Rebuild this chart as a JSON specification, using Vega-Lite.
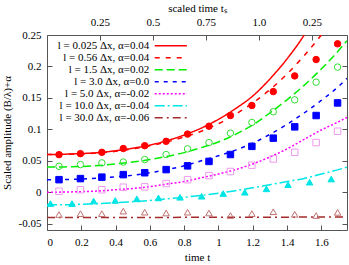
{
  "$schema": "https://vega.github.io/schema/vega-lite/v6.json",
  "width": 300,
  "height": 195,
  "autosize": "none",
  "padding": {"left": 47, "top": 35, "right": 2, "bottom": 35},
  "config": {
    "font": "Liberation Serif",
    "view": {"stroke": "#555", "strokeWidth": 1},
    "axis": {
      "labelFont": "Liberation Serif",
      "labelFontSize": 11,
      "labelColor": "#000",
      "labelOverlap": false,
      "labelBound": false,
      "titleFont": "Liberation Serif",
      "titleFontSize": 11,
      "titleFontWeight": "normal",
      "titleColor": "#000",
      "domain": false,
      "grid": false,
      "tickColor": "#555",
      "tickSize": -5
    },
    "legend": {
      "orient": "none", "legendX": 117.3, "legendY": 4.2, "title": null, "padding": 0,
      "labelAlign": "right", "labelOffset": -28, "labelFont": "Liberation Serif", "labelFontSize": 11,
      "labelColor": "#000", "labelLimit": 0, "symbolType": "M-2.8,0H2.8", "symbolSize": 132,
      "symbolStrokeWidth": 1.5, "rowPadding": 0
    }
  },
  "datasets": {
    "curves": [
      {"series": "l = 0.025 Δx, α=0.04", "t": 0, "v": 0.060},
      {"series": "l = 0.025 Δx, α=0.04", "t": 0.1, "v": 0.0605},
      {"series": "l = 0.025 Δx, α=0.04", "t": 0.2, "v": 0.0615},
      {"series": "l = 0.025 Δx, α=0.04", "t": 0.3, "v": 0.063},
      {"series": "l = 0.025 Δx, α=0.04", "t": 0.4, "v": 0.066},
      {"series": "l = 0.025 Δx, α=0.04", "t": 0.5, "v": 0.070},
      {"series": "l = 0.025 Δx, α=0.04", "t": 0.6, "v": 0.075},
      {"series": "l = 0.025 Δx, α=0.04", "t": 0.7, "v": 0.082},
      {"series": "l = 0.025 Δx, α=0.04", "t": 0.8, "v": 0.091},
      {"series": "l = 0.025 Δx, α=0.04", "t": 0.9, "v": 0.102},
      {"series": "l = 0.025 Δx, α=0.04", "t": 1.0, "v": 0.116},
      {"series": "l = 0.025 Δx, α=0.04", "t": 1.1, "v": 0.133},
      {"series": "l = 0.025 Δx, α=0.04", "t": 1.2, "v": 0.153},
      {"series": "l = 0.025 Δx, α=0.04", "t": 1.3, "v": 0.180},
      {"series": "l = 0.025 Δx, α=0.04", "t": 1.4, "v": 0.212},
      {"series": "l = 0.025 Δx, α=0.04", "t": 1.5, "v": 0.250},
      {"series": "l = 0.025 Δx, α=0.04", "t": 1.55, "v": 0.273},

      {"series": "l = 0.56 Δx, α=0.04", "t": 0, "v": 0.060},
      {"series": "l = 0.56 Δx, α=0.04", "t": 0.1, "v": 0.0603},
      {"series": "l = 0.56 Δx, α=0.04", "t": 0.2, "v": 0.061},
      {"series": "l = 0.56 Δx, α=0.04", "t": 0.3, "v": 0.0625},
      {"series": "l = 0.56 Δx, α=0.04", "t": 0.4, "v": 0.065},
      {"series": "l = 0.56 Δx, α=0.04", "t": 0.5, "v": 0.069},
      {"series": "l = 0.56 Δx, α=0.04", "t": 0.6, "v": 0.074},
      {"series": "l = 0.56 Δx, α=0.04", "t": 0.7, "v": 0.080},
      {"series": "l = 0.56 Δx, α=0.04", "t": 0.8, "v": 0.088},
      {"series": "l = 0.56 Δx, α=0.04", "t": 0.9, "v": 0.097},
      {"series": "l = 0.56 Δx, α=0.04", "t": 1.0, "v": 0.109},
      {"series": "l = 0.56 Δx, α=0.04", "t": 1.1, "v": 0.124},
      {"series": "l = 0.56 Δx, α=0.04", "t": 1.2, "v": 0.142},
      {"series": "l = 0.56 Δx, α=0.04", "t": 1.3, "v": 0.163},
      {"series": "l = 0.56 Δx, α=0.04", "t": 1.4, "v": 0.188},
      {"series": "l = 0.56 Δx, α=0.04", "t": 1.5, "v": 0.217},
      {"series": "l = 0.56 Δx, α=0.04", "t": 1.6, "v": 0.250},
      {"series": "l = 0.56 Δx, α=0.04", "t": 1.65, "v": 0.268},

      {"series": "l = 1.5 Δx, α=0.02", "t": 0, "v": 0.040},
      {"series": "l = 1.5 Δx, α=0.02", "t": 0.1, "v": 0.0403},
      {"series": "l = 1.5 Δx, α=0.02", "t": 0.2, "v": 0.041},
      {"series": "l = 1.5 Δx, α=0.02", "t": 0.3, "v": 0.0425},
      {"series": "l = 1.5 Δx, α=0.02", "t": 0.4, "v": 0.045},
      {"series": "l = 1.5 Δx, α=0.02", "t": 0.5, "v": 0.048},
      {"series": "l = 1.5 Δx, α=0.02", "t": 0.6, "v": 0.052},
      {"series": "l = 1.5 Δx, α=0.02", "t": 0.7, "v": 0.057},
      {"series": "l = 1.5 Δx, α=0.02", "t": 0.8, "v": 0.063},
      {"series": "l = 1.5 Δx, α=0.02", "t": 0.9, "v": 0.071},
      {"series": "l = 1.5 Δx, α=0.02", "t": 1.0, "v": 0.080},
      {"series": "l = 1.5 Δx, α=0.02", "t": 1.1, "v": 0.092},
      {"series": "l = 1.5 Δx, α=0.02", "t": 1.2, "v": 0.107},
      {"series": "l = 1.5 Δx, α=0.02", "t": 1.3, "v": 0.126},
      {"series": "l = 1.5 Δx, α=0.02", "t": 1.4, "v": 0.147},
      {"series": "l = 1.5 Δx, α=0.02", "t": 1.5, "v": 0.170},
      {"series": "l = 1.5 Δx, α=0.02", "t": 1.6, "v": 0.196},
      {"series": "l = 1.5 Δx, α=0.02", "t": 1.7, "v": 0.225},
      {"series": "l = 1.5 Δx, α=0.02", "t": 1.75, "v": 0.241},

      {"series": "l = 3.0 Δx, α=0.0", "t": 0, "v": 0.020},
      {"series": "l = 3.0 Δx, α=0.0", "t": 0.1, "v": 0.0203},
      {"series": "l = 3.0 Δx, α=0.0", "t": 0.2, "v": 0.021},
      {"series": "l = 3.0 Δx, α=0.0", "t": 0.3, "v": 0.0225},
      {"series": "l = 3.0 Δx, α=0.0", "t": 0.4, "v": 0.0245},
      {"series": "l = 3.0 Δx, α=0.0", "t": 0.5, "v": 0.027},
      {"series": "l = 3.0 Δx, α=0.0", "t": 0.6, "v": 0.031},
      {"series": "l = 3.0 Δx, α=0.0", "t": 0.7, "v": 0.036},
      {"series": "l = 3.0 Δx, α=0.0", "t": 0.8, "v": 0.042},
      {"series": "l = 3.0 Δx, α=0.0", "t": 0.9, "v": 0.050},
      {"series": "l = 3.0 Δx, α=0.0", "t": 1.0, "v": 0.058},
      {"series": "l = 3.0 Δx, α=0.0", "t": 1.1, "v": 0.067},
      {"series": "l = 3.0 Δx, α=0.0", "t": 1.2, "v": 0.078},
      {"series": "l = 3.0 Δx, α=0.0", "t": 1.3, "v": 0.092},
      {"series": "l = 3.0 Δx, α=0.0", "t": 1.4, "v": 0.108},
      {"series": "l = 3.0 Δx, α=0.0", "t": 1.5, "v": 0.126},
      {"series": "l = 3.0 Δx, α=0.0", "t": 1.6, "v": 0.146},
      {"series": "l = 3.0 Δx, α=0.0", "t": 1.7, "v": 0.168},
      {"series": "l = 3.0 Δx, α=0.0", "t": 1.75, "v": 0.181},

      {"series": "l = 5.0 Δx, α=-0.02", "t": 0, "v": 0.000},
      {"series": "l = 5.0 Δx, α=-0.02", "t": 0.1, "v": 0.0003},
      {"series": "l = 5.0 Δx, α=-0.02", "t": 0.2, "v": 0.001},
      {"series": "l = 5.0 Δx, α=-0.02", "t": 0.3, "v": 0.002},
      {"series": "l = 5.0 Δx, α=-0.02", "t": 0.4, "v": 0.004},
      {"series": "l = 5.0 Δx, α=-0.02", "t": 0.5, "v": 0.006},
      {"series": "l = 5.0 Δx, α=-0.02", "t": 0.6, "v": 0.009},
      {"series": "l = 5.0 Δx, α=-0.02", "t": 0.7, "v": 0.013},
      {"series": "l = 5.0 Δx, α=-0.02", "t": 0.8, "v": 0.017},
      {"series": "l = 5.0 Δx, α=-0.02", "t": 0.9, "v": 0.023},
      {"series": "l = 5.0 Δx, α=-0.02", "t": 1.0, "v": 0.029},
      {"series": "l = 5.0 Δx, α=-0.02", "t": 1.1, "v": 0.036},
      {"series": "l = 5.0 Δx, α=-0.02", "t": 1.2, "v": 0.045},
      {"series": "l = 5.0 Δx, α=-0.02", "t": 1.3, "v": 0.056},
      {"series": "l = 5.0 Δx, α=-0.02", "t": 1.4, "v": 0.069},
      {"series": "l = 5.0 Δx, α=-0.02", "t": 1.5, "v": 0.084},
      {"series": "l = 5.0 Δx, α=-0.02", "t": 1.6, "v": 0.099},
      {"series": "l = 5.0 Δx, α=-0.02", "t": 1.7, "v": 0.112},
      {"series": "l = 5.0 Δx, α=-0.02", "t": 1.75, "v": 0.119},

      {"series": "l = 10.0 Δx, α=-0.04", "t": 0, "v": -0.020},
      {"series": "l = 10.0 Δx, α=-0.04", "t": 0.1, "v": -0.0198},
      {"series": "l = 10.0 Δx, α=-0.04", "t": 0.2, "v": -0.019},
      {"series": "l = 10.0 Δx, α=-0.04", "t": 0.3, "v": -0.018},
      {"series": "l = 10.0 Δx, α=-0.04", "t": 0.4, "v": -0.0165},
      {"series": "l = 10.0 Δx, α=-0.04", "t": 0.5, "v": -0.015},
      {"series": "l = 10.0 Δx, α=-0.04", "t": 0.6, "v": -0.013},
      {"series": "l = 10.0 Δx, α=-0.04", "t": 0.7, "v": -0.0105},
      {"series": "l = 10.0 Δx, α=-0.04", "t": 0.8, "v": -0.008},
      {"series": "l = 10.0 Δx, α=-0.04", "t": 0.9, "v": -0.005},
      {"series": "l = 10.0 Δx, α=-0.04", "t": 1.0, "v": -0.0015},
      {"series": "l = 10.0 Δx, α=-0.04", "t": 1.1, "v": 0.0025},
      {"series": "l = 10.0 Δx, α=-0.04", "t": 1.2, "v": 0.007},
      {"series": "l = 10.0 Δx, α=-0.04", "t": 1.3, "v": 0.012},
      {"series": "l = 10.0 Δx, α=-0.04", "t": 1.4, "v": 0.017},
      {"series": "l = 10.0 Δx, α=-0.04", "t": 1.5, "v": 0.022},
      {"series": "l = 10.0 Δx, α=-0.04", "t": 1.6, "v": 0.029},
      {"series": "l = 10.0 Δx, α=-0.04", "t": 1.7, "v": 0.036},
      {"series": "l = 10.0 Δx, α=-0.04", "t": 1.75, "v": 0.040},

      {"series": "l = 30.0 Δx, α=-0.06", "t": 0, "v": -0.040},
      {"series": "l = 30.0 Δx, α=-0.06", "t": 0.5, "v": -0.040},
      {"series": "l = 30.0 Δx, α=-0.06", "t": 1.0, "v": -0.0398},
      {"series": "l = 30.0 Δx, α=-0.06", "t": 1.5, "v": -0.0395},
      {"series": "l = 30.0 Δx, α=-0.06", "t": 1.75, "v": -0.0393}
    ],
    "pts": [
      {"series": "l = 0.56 Δx, α=0.04", "t": 0.07, "v": 0.0598},
      {"series": "l = 0.56 Δx, α=0.04", "t": 0.195, "v": 0.0614},
      {"series": "l = 0.56 Δx, α=0.04", "t": 0.32, "v": 0.0635},
      {"series": "l = 0.56 Δx, α=0.04", "t": 0.445, "v": 0.0695},
      {"series": "l = 0.56 Δx, α=0.04", "t": 0.57, "v": 0.0741},
      {"series": "l = 0.56 Δx, α=0.04", "t": 0.695, "v": 0.081},
      {"series": "l = 0.56 Δx, α=0.04", "t": 0.82, "v": 0.0925},
      {"series": "l = 0.56 Δx, α=0.04", "t": 0.945, "v": 0.105},
      {"series": "l = 0.56 Δx, α=0.04", "t": 1.07, "v": 0.122},
      {"series": "l = 0.56 Δx, α=0.04", "t": 1.195, "v": 0.138},
      {"series": "l = 0.56 Δx, α=0.04", "t": 1.32, "v": 0.160},
      {"series": "l = 0.56 Δx, α=0.04", "t": 1.445, "v": 0.185},
      {"series": "l = 0.56 Δx, α=0.04", "t": 1.57, "v": 0.211},
      {"series": "l = 0.56 Δx, α=0.04", "t": 1.695, "v": 0.236},

      {"series": "l = 1.5 Δx, α=0.02", "t": 0.07, "v": 0.0413},
      {"series": "l = 1.5 Δx, α=0.02", "t": 0.195, "v": 0.044},
      {"series": "l = 1.5 Δx, α=0.02", "t": 0.32, "v": 0.0467},
      {"series": "l = 1.5 Δx, α=0.02", "t": 0.445, "v": 0.048},
      {"series": "l = 1.5 Δx, α=0.02", "t": 0.57, "v": 0.052},
      {"series": "l = 1.5 Δx, α=0.02", "t": 0.695, "v": 0.060},
      {"series": "l = 1.5 Δx, α=0.02", "t": 0.82, "v": 0.069},
      {"series": "l = 1.5 Δx, α=0.02", "t": 0.945, "v": 0.079},
      {"series": "l = 1.5 Δx, α=0.02", "t": 1.07, "v": 0.094},
      {"series": "l = 1.5 Δx, α=0.02", "t": 1.195, "v": 0.111},
      {"series": "l = 1.5 Δx, α=0.02", "t": 1.32, "v": 0.128},
      {"series": "l = 1.5 Δx, α=0.02", "t": 1.445, "v": 0.147},
      {"series": "l = 1.5 Δx, α=0.02", "t": 1.57, "v": 0.175},
      {"series": "l = 1.5 Δx, α=0.02", "t": 1.695, "v": 0.199},

      {"series": "l = 3.0 Δx, α=0.0", "t": 0.07, "v": 0.020},
      {"series": "l = 3.0 Δx, α=0.0", "t": 0.195, "v": 0.0217},
      {"series": "l = 3.0 Δx, α=0.0", "t": 0.32, "v": 0.024},
      {"series": "l = 3.0 Δx, α=0.0", "t": 0.445, "v": 0.028},
      {"series": "l = 3.0 Δx, α=0.0", "t": 0.57, "v": 0.031},
      {"series": "l = 3.0 Δx, α=0.0", "t": 0.695, "v": 0.036},
      {"series": "l = 3.0 Δx, α=0.0", "t": 0.82, "v": 0.042},
      {"series": "l = 3.0 Δx, α=0.0", "t": 0.945, "v": 0.049},
      {"series": "l = 3.0 Δx, α=0.0", "t": 1.07, "v": 0.060},
      {"series": "l = 3.0 Δx, α=0.0", "t": 1.195, "v": 0.073},
      {"series": "l = 3.0 Δx, α=0.0", "t": 1.32, "v": 0.086},
      {"series": "l = 3.0 Δx, α=0.0", "t": 1.445, "v": 0.104},
      {"series": "l = 3.0 Δx, α=0.0", "t": 1.57, "v": 0.122},
      {"series": "l = 3.0 Δx, α=0.0", "t": 1.695, "v": 0.142},

      {"series": "l = 5.0 Δx, α=-0.02", "t": 0.07, "v": 0.0016},
      {"series": "l = 5.0 Δx, α=-0.02", "t": 0.195, "v": 0.004},
      {"series": "l = 5.0 Δx, α=-0.02", "t": 0.32, "v": 0.004},
      {"series": "l = 5.0 Δx, α=-0.02", "t": 0.445, "v": 0.008},
      {"series": "l = 5.0 Δx, α=-0.02", "t": 0.57, "v": 0.0086},
      {"series": "l = 5.0 Δx, α=-0.02", "t": 0.695, "v": 0.0138},
      {"series": "l = 5.0 Δx, α=-0.02", "t": 0.82, "v": 0.020},
      {"series": "l = 5.0 Δx, α=-0.02", "t": 0.945, "v": 0.0265},
      {"series": "l = 5.0 Δx, α=-0.02", "t": 1.07, "v": 0.033},
      {"series": "l = 5.0 Δx, α=-0.02", "t": 1.195, "v": 0.043},
      {"series": "l = 5.0 Δx, α=-0.02", "t": 1.32, "v": 0.053},
      {"series": "l = 5.0 Δx, α=-0.02", "t": 1.445, "v": 0.0635},
      {"series": "l = 5.0 Δx, α=-0.02", "t": 1.57, "v": 0.079},
      {"series": "l = 5.0 Δx, α=-0.02", "t": 1.695, "v": 0.097},

      {"series": "l = 10.0 Δx, α=-0.04", "t": 0.02, "v": -0.018},
      {"series": "l = 10.0 Δx, α=-0.04", "t": 0.146, "v": -0.018},
      {"series": "l = 10.0 Δx, α=-0.04", "t": 0.272, "v": -0.014},
      {"series": "l = 10.0 Δx, α=-0.04", "t": 0.398, "v": -0.013},
      {"series": "l = 10.0 Δx, α=-0.04", "t": 0.524, "v": -0.0105},
      {"series": "l = 10.0 Δx, α=-0.04", "t": 0.65, "v": -0.009},
      {"series": "l = 10.0 Δx, α=-0.04", "t": 0.776, "v": -0.008},
      {"series": "l = 10.0 Δx, α=-0.04", "t": 0.902, "v": -0.0063},
      {"series": "l = 10.0 Δx, α=-0.04", "t": 1.028, "v": -0.002},
      {"series": "l = 10.0 Δx, α=-0.04", "t": 1.154, "v": 0.000},
      {"series": "l = 10.0 Δx, α=-0.04", "t": 1.28, "v": 0.0054},
      {"series": "l = 10.0 Δx, α=-0.04", "t": 1.406, "v": 0.012},
      {"series": "l = 10.0 Δx, α=-0.04", "t": 1.532, "v": 0.016},
      {"series": "l = 10.0 Δx, α=-0.04", "t": 1.658, "v": 0.021},

      {"series": "l = 30.0 Δx, α=-0.06", "t": 0.07, "v": -0.0354},
      {"series": "l = 30.0 Δx, α=-0.06", "t": 0.195, "v": -0.034},
      {"series": "l = 30.0 Δx, α=-0.06", "t": 0.32, "v": -0.034},
      {"series": "l = 30.0 Δx, α=-0.06", "t": 0.445, "v": -0.030},
      {"series": "l = 30.0 Δx, α=-0.06", "t": 0.57, "v": -0.0317},
      {"series": "l = 30.0 Δx, α=-0.06", "t": 0.695, "v": -0.033},
      {"series": "l = 30.0 Δx, α=-0.06", "t": 0.82, "v": -0.0317},
      {"series": "l = 30.0 Δx, α=-0.06", "t": 0.945, "v": -0.033},
      {"series": "l = 30.0 Δx, α=-0.06", "t": 1.07, "v": -0.037},
      {"series": "l = 30.0 Δx, α=-0.06", "t": 1.195, "v": -0.034},
      {"series": "l = 30.0 Δx, α=-0.06", "t": 1.32, "v": -0.031},
      {"series": "l = 30.0 Δx, α=-0.06", "t": 1.445, "v": -0.035},
      {"series": "l = 30.0 Δx, α=-0.06", "t": 1.57, "v": -0.037},
      {"series": "l = 30.0 Δx, α=-0.06", "t": 1.695, "v": -0.032}
    ],
    "topaxis": [{"ts": 0.25, "v": 0}]
  },
  "layer": [
    {
      "layer": [
        {
          "data": {"name": "curves"},
          "mark": {"type": "line", "clip": true, "strokeWidth": 1.5, "interpolate": "monotone"},
          "encoding": {
            "x": {"field": "t", "type": "quantitative", "scale": {"domain": [0, 1.75], "nice": false, "zero": false},
              "axis": {"orient": "bottom", "title": "time t", "values": [0, 0.2, 0.4, 0.6, 0.8, 1, 1.2, 1.4, 1.6], "labelExpr": "'' + datum.value", "labelOverlap": false, "labelPadding": 11, "titlePadding": 4}},
            "y": {"field": "v", "type": "quantitative", "scale": {"domain": [-0.06, 0.25], "nice": false, "zero": false},
              "axis": {"orient": "left", "title": "Scaled amplitude (B/λ)+α", "values": [-0.05, 0, 0.05, 0.1, 0.15, 0.2, 0.25], "labelExpr": "'' + datum.value", "labelOverlap": false, "labelPadding": 11, "titlePadding": 6}},
            "color": {"field": "series", "type": "nominal",
              "scale": {"domain": ["l = 0.025 Δx, α=0.04", "l = 0.56 Δx, α=0.04", "l = 1.5 Δx, α=0.02", "l = 3.0 Δx, α=0.0", "l = 5.0 Δx, α=-0.02", "l = 10.0 Δx, α=-0.04", "l = 30.0 Δx, α=-0.06"],
                "range": ["#ff0000", "#ff0000", "#00ee00", "#0000ff", "#ff00ff", "#00e5e5", "#a52a2a"]},
              "legend": {"title": null}},
            "strokeDash": {"field": "series", "type": "nominal",
              "scale": {"domain": ["l = 0.025 Δx, α=0.04", "l = 0.56 Δx, α=0.04", "l = 1.5 Δx, α=0.02", "l = 3.0 Δx, α=0.0", "l = 5.0 Δx, α=-0.02", "l = 10.0 Δx, α=-0.04", "l = 30.0 Δx, α=-0.06"],
                "range": [[1, 0], [5, 6], [8, 4], [4, 5], [2, 2], [10, 3, 2, 3], [8, 4, 2, 4]]},
              "legend": {"title": null}}
          }
        },
        {
          "data": {"name": "pts"},
          "mark": {"type": "point", "clip": true, "strokeWidth": 1, "opacity": 1, "size": 42},
          "encoding": {
            "x": {"field": "t", "type": "quantitative",
              "axis": {"orient": "bottom", "title": "time t", "values": [0, 0.2, 0.4, 0.6, 0.8, 1, 1.2, 1.4, 1.6], "labelExpr": "'' + datum.value", "labelOverlap": false, "labelPadding": 11, "titlePadding": 4}},
            "y": {"field": "v", "type": "quantitative",
              "axis": {"orient": "left", "title": "Scaled amplitude (B/λ)+α", "values": [-0.05, 0, 0.05, 0.1, 0.15, 0.2, 0.25], "labelExpr": "'' + datum.value", "labelOverlap": false, "labelPadding": 11, "titlePadding": 6}},
            "shape": {"field": "series", "type": "nominal", "legend": null,
              "scale": {"domain": ["l = 0.56 Δx, α=0.04", "l = 1.5 Δx, α=0.02", "l = 3.0 Δx, α=0.0", "l = 5.0 Δx, α=-0.02", "l = 10.0 Δx, α=-0.04", "l = 30.0 Δx, α=-0.06"],
                "range": ["circle", "circle", "square", "square", "triangle-up", "triangle-up"]}},
            "stroke": {"field": "series", "type": "nominal", "legend": null,
              "scale": {"domain": ["l = 0.56 Δx, α=0.04", "l = 1.5 Δx, α=0.02", "l = 3.0 Δx, α=0.0", "l = 5.0 Δx, α=-0.02", "l = 10.0 Δx, α=-0.04", "l = 30.0 Δx, α=-0.06"],
                "range": ["#ff0000", "#33dd33", "#0000ff", "#ee99ee", "#00e5e5", "#c07070"]}},
            "fill": {"field": "series", "type": "nominal", "legend": null,
              "scale": {"domain": ["l = 0.56 Δx, α=0.04", "l = 1.5 Δx, α=0.02", "l = 3.0 Δx, α=0.0", "l = 5.0 Δx, α=-0.02", "l = 10.0 Δx, α=-0.04", "l = 30.0 Δx, α=-0.06"],
                "range": ["#ff0000", "transparent", "#0000ff", "transparent", "#00e5e5", "transparent"]}}
          }
        }
      ]
    },
    {
      "data": {"name": "topaxis"},
      "mark": {"type": "point", "opacity": 0},
      "encoding": {
        "x": {"field": "ts", "type": "quantitative", "scale": {"domain": [0, 1.416], "nice": false, "zero": false},
          "axis": {"orient": "top", "title": "scaled time tₛ", "values": [0.25, 0.5, 0.75, 1, 1.25], "labelExpr": "datum.value == 1 ? '1.0' : datum.value == 1.25 ? '0.25' : '' + datum.value", "labelOverlap": false, "labelPadding": 13, "titlePadding": 3}},
        "y": {"field": "v", "type": "quantitative", "scale": {"domain": [-0.06, 0.25], "nice": false, "zero": false},
          "axis": {"orient": "right", "title": null, "labels": false, "values": [-0.05, 0, 0.05, 0.1, 0.15, 0.2, 0.25]}}
      }
    }
  ],
  "resolve": {"scale": {"x": "independent", "y": "independent"}, "axis": {"x": "independent", "y": "independent"}}
}
